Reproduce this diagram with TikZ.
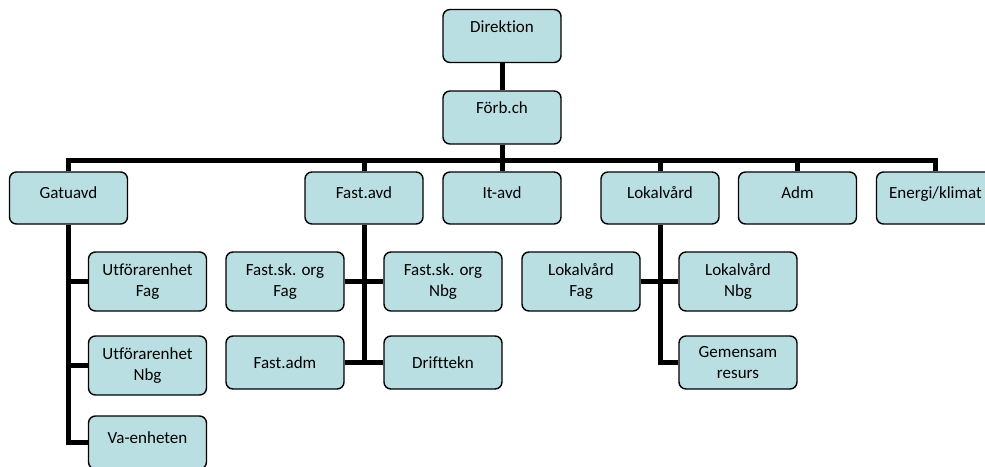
\documentclass[tikz,border=0pt]{standalone}
\usepackage{fontspec}
\setmainfont{Carlito}[Ligatures=NoCommon]
\usetikzlibrary{calc}
\definecolor{boxfill}{RGB}{186,223,227}
\tikzset{
  box/.style={draw,line width=1.4pt,rounded corners=7pt,fill=boxfill,
    minimum width=118pt,inner sep=0pt,align=center,
    font=\fontsize{17}{21}\selectfont},
  top/.style={box,minimum height=53pt,text height=12pt,text depth=20pt},
  head/.style={box,minimum height=52pt,text height=12pt,text depth=11pt},
  sub/.style={box,minimum height=59pt},
  low/.style={box,minimum height=53pt},
  link/.style={line width=5pt}
}
\begin{document}
\begin{tikzpicture}[x=1pt,y=-1pt]
    \useasboundingbox (0,0) rectangle (985,466);
    \node[top] (dir) at (502,36) {Direktion};
    \node[top] (forb) at (502,117.5) {Förb.ch};
    \coordinate (bar) at (502,160);
    \foreach \name/\x/\txt in {%
      gat/68.5/Gatuavd,
      fast/364/Fast.avd,
      it/502/It-avd,
      lok/660/Lokalvård,
      adm/797.5/Adm,
      energi/935.5/{Energi/klimat}}{%
        \node[head] (\name) at (\x,198) {\txt};
        \draw[link] (\name.north) |- (bar);
      }
    \node[sub] (utfFag) at (147.5,281.5) {Utförarenhet\\Fag};
    \node[sub] (utfNbg) at (147.5,365.5) {Utförarenhet\\Nbg};
    \node[head,minimum height=53pt] (va) at (147.5,442.5) {Va-enheten};
    \node[sub] (fskFag) at (285,281.5) {Fast.sk. org\\Fag};
    \node[sub] (fskNbg) at (443,281.5) {Fast.sk. org\\Nbg};
    \node[low] (fadm) at (285,362.5) {Fast.adm};
    \node[low] (drift) at (443,362.5) {Drifttekn};
    \node[sub] (lokFag) at (581,281.5) {Lokalvård\\Fag};
    \node[sub] (lokNbg) at (738,281.5) {Lokalvård\\Nbg};
    \node[low] (gem) at (738,362.5) {Gemensam\\resurs};
    \draw[link] (dir) -- (forb) (forb) -- (bar);
    \foreach \to in {utfFag,utfNbg,va}
      \draw[link] (gat.south) |- (\to.west);
    \draw[link] (fast.south) -- (fast.south |- drift) (fskFag) -- (fskNbg) (fadm) -- (drift);
    \draw[link] (lok.south) |- (gem.west) (lokFag) -- (lokNbg);
\end{tikzpicture}
\end{document}
